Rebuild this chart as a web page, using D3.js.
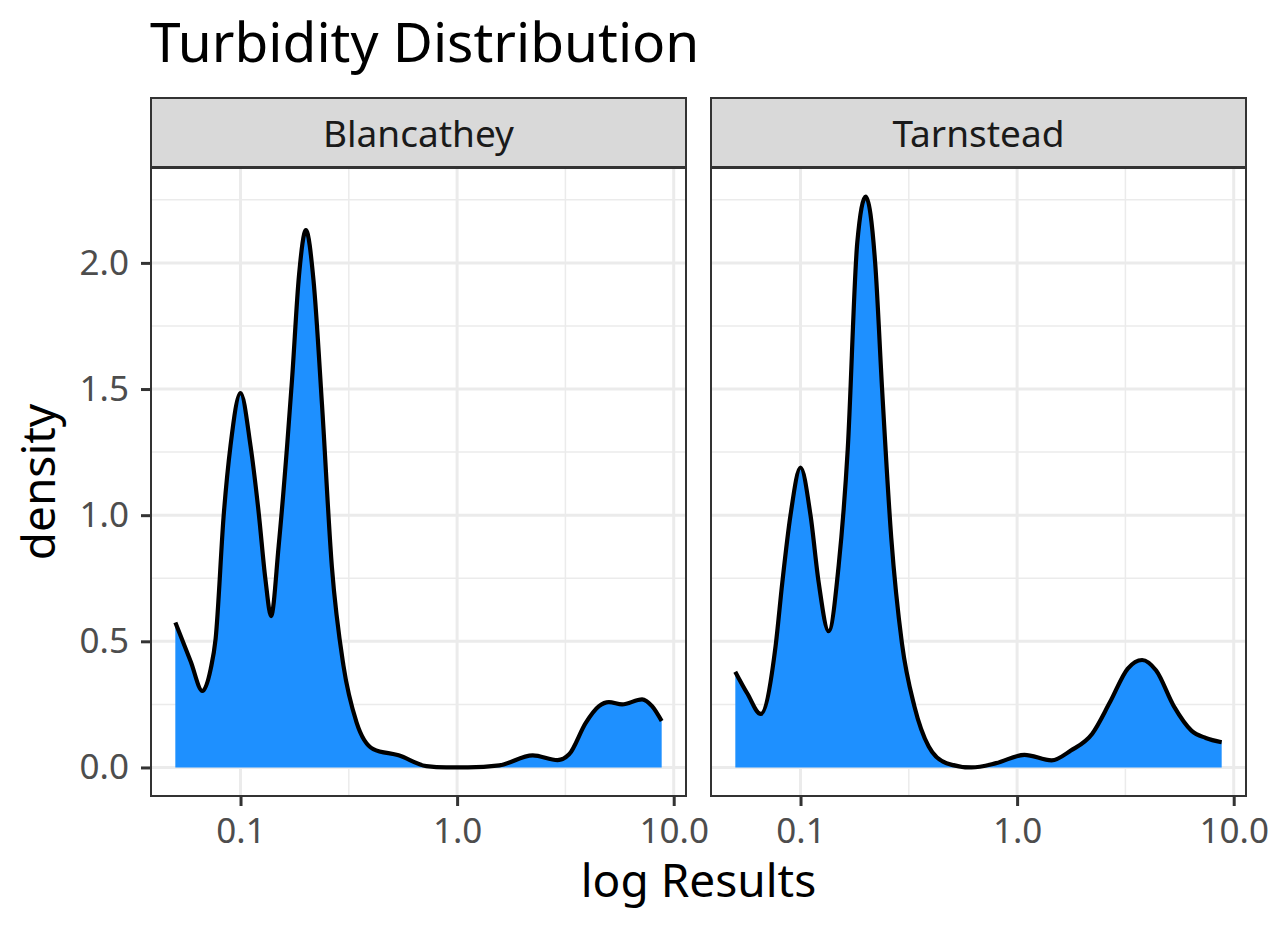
<!DOCTYPE html>
<html>
<head>
<meta charset="utf-8">
<script src="https://cdn.jsdelivr.net/npm/d3@7"></script>
<style>
  body { margin: 0; background: #fff; }
  text { font-family: "Noto Sans", sans-serif; }
</style>
</head>
<body>
<script>
// facets
const sites = ["Blancathey", "Tarnstead"];

// density curve: x in raw Results (log axis), y density
const blancatheyX = [0.05, 0.0589, 0.0667, 0.0728, 0.0767, 0.0838, 0.0899, 0.1, 0.1112, 0.1213, 0.1303, 0.1384, 0.15, 0.1641, 0.173, 0.1862, 0.2004, 0.2173, 0.2377, 0.2642, 0.2985, 0.3436, 0.4102, 0.537, 0.7211, 0.891, 1.122, 1.567, 2.234, 2.911, 3.289, 3.926, 4.519, 5.023, 5.781, 7.145, 7.943, 8.8];
const blancatheyY = [0.575, 0.42, 0.303, 0.39, 0.508, 1.01, 1.275, 1.484, 1.275, 1.01, 0.746, 0.60, 0.878, 1.275, 1.54, 1.95, 2.13, 1.93, 1.44, 0.794, 0.405, 0.178, 0.073, 0.048, 0.005, 0.0, 0.0, 0.008, 0.048, 0.029, 0.052, 0.177, 0.243, 0.259, 0.25, 0.27, 0.243, 0.184];

const tarnsteadX = [0.05, 0.0569, 0.0655, 0.0767, 0.0824, 0.0899, 0.1, 0.1112, 0.1213, 0.1349, 0.15, 0.1652, 0.1828, 0.2, 0.2213, 0.2382, 0.2624, 0.2938, 0.3357, 0.3908, 0.4721, 0.6152, 0.7998, 1.081, 1.442, 1.77, 2.223, 2.685, 3.243, 3.776, 4.385, 5.297, 6.397, 7.43, 8.8];
const tarnsteadY = [0.379, 0.292, 0.212, 0.48, 0.733, 1.0, 1.189, 1.0, 0.733, 0.54, 0.80, 1.262, 2.08, 2.263, 1.996, 1.495, 0.91, 0.493, 0.242, 0.083, 0.017, 0.0, 0.017, 0.05, 0.028, 0.067, 0.134, 0.259, 0.392, 0.426, 0.384, 0.242, 0.145, 0.117, 0.1];

const xBreaks = [0.1, 1, 10];
const xMinor = [Math.pow(10, -1.5), Math.pow(10, -0.5), Math.pow(10, 0.5), Math.pow(10, 1.5)];
const yBreaks = [0, 0.5, 1, 1.5, 2];
const yMinor = [0.25, 0.75, 1.25, 1.75, 2.25];

const series = {
  Blancathey: blancatheyX.map((x, i) => ({ x, y: blancatheyY[i] })),
  Tarnstead: tarnsteadX.map((x, i) => ({ x, y: tarnsteadY[i] }))
};

const W = 1270, H = 931;
const panelTop = 168, panelBottom = 796, stripTop = 98;
const panelLefts = [151, 711], panelW = 535;

const svg = d3.select("body").append("svg")
  .attr("width", W).attr("height", H)
  .attr("viewBox", [0, 0, W, H]);

// ggplot style 5% expansion
const allX = blancatheyX.concat(tarnsteadX);
const lx = d3.extent(allX, d => Math.log10(d));
const padX = (lx[1] - lx[0]) * 0.05;
const x = d3.scaleLog()
  .domain([Math.pow(10, lx[0] - padX), Math.pow(10, lx[1] + padX)])
  .range([0, panelW]);

const ymax = d3.max(blancatheyY.concat(tarnsteadY));
const y = d3.scaleLinear()
  .domain([-ymax * 0.05, ymax * 1.05])
  .range([panelBottom - panelTop, 0]);

const area = d3.area()
  .x(d => x(d.x)).y0(y(0)).y1(d => y(d.y))
  .curve(d3.curveMonotoneX);
const line = d3.line()
  .x(d => x(d.x)).y(d => y(d.y))
  .curve(d3.curveMonotoneX);

sites.forEach((site, i) => {
  const g = svg.append("g")
    .attr("transform", `translate(${panelLefts[i]},${panelTop})`);
  const ph = panelBottom - panelTop;

  // minor grid
  g.selectAll(".ymin").data(yMinor).join("line")
    .attr("x1", 0).attr("x2", panelW)
    .attr("y1", d => y(d)).attr("y2", d => y(d))
    .attr("stroke", "#EBEBEB").attr("stroke-width", 1.5);
  g.selectAll(".xmin").data(xMinor.filter(d => x(d) > 0 && x(d) < panelW)).join("line")
    .attr("x1", d => x(d)).attr("x2", d => x(d))
    .attr("y1", 0).attr("y2", ph)
    .attr("stroke", "#EBEBEB").attr("stroke-width", 1.5);
  // major grid
  g.selectAll(".ymaj").data(yBreaks).join("line")
    .attr("x1", 0).attr("x2", panelW)
    .attr("y1", d => y(d)).attr("y2", d => y(d))
    .attr("stroke", "#EBEBEB").attr("stroke-width", 3);
  g.selectAll(".xmaj").data(xBreaks).join("line")
    .attr("x1", d => x(d)).attr("x2", d => x(d))
    .attr("y1", 0).attr("y2", ph)
    .attr("stroke", "#EBEBEB").attr("stroke-width", 3);

  g.append("path")
    .datum(series[site])
    .attr("fill", "#1E90FF")
    .attr("d", area);
  g.append("path")
    .datum(series[site])
    .attr("fill", "none")
    .attr("stroke", "#000")
    .attr("stroke-width", 4.2)
    .attr("stroke-linejoin", "round")
    .attr("d", line);

  // panel border
  g.append("rect")
    .attr("x", 0).attr("y", 0).attr("width", panelW).attr("height", ph)
    .attr("fill", "none").attr("stroke", "#333333").attr("stroke-width", 2);

  // strip
  svg.append("rect")
    .attr("x", panelLefts[i]).attr("y", stripTop)
    .attr("width", panelW).attr("height", panelTop - stripTop - 1)
    .attr("fill", "#D9D9D9").attr("stroke", "#333333").attr("stroke-width", 2);
  svg.append("text")
    .attr("x", panelLefts[i] + panelW / 2).attr("y", 146.5)
    .attr("text-anchor", "middle")
    .attr("font-size", 37).attr("fill", "#1A1A1A")
    .text(site);

  // x axis
  const xa = g.append("g").attr("transform", `translate(0,${ph})`)
    .call(d3.axisBottom(x).tickValues(xBreaks).tickFormat(d3.format(".1f")).tickSize(10).tickPadding(12));
  xa.select(".domain").remove();
  xa.selectAll("line").attr("stroke", "#333333").attr("stroke-width", 3);
  xa.selectAll("text").attr("font-size", 35).attr("fill", "#4D4D4D")
    .attr("font-family", "Noto Sans, sans-serif");

  if (i === 0) {
    const ya = g.append("g")
      .call(d3.axisLeft(y).tickValues(yBreaks).tickFormat(d3.format(".1f")).tickSize(10).tickPadding(12));
    ya.select(".domain").remove();
    ya.selectAll("line").attr("stroke", "#333333").attr("stroke-width", 3);
    ya.selectAll("text").attr("font-size", 35).attr("fill", "#4D4D4D")
      .attr("font-family", "Noto Sans, sans-serif");
  }
});

// titles
svg.append("text")
  .attr("x", 150).attr("y", 62)
  .attr("font-size", 55).attr("fill", "#000")
  .text("Turbidity Distribution");

svg.append("text")
  .attr("x", (panelLefts[0] + panelLefts[1] + panelW) / 2).attr("y", 897)
  .attr("text-anchor", "middle")
  .attr("font-size", 46).attr("fill", "#000")
  .text("log Results");

svg.append("text")
  .attr("transform", `translate(55,${(panelTop + panelBottom) / 2}) rotate(-90)`)
  .attr("text-anchor", "middle")
  .attr("font-size", 46).attr("fill", "#000")
  .text("density");
</script>
</body>
</html>
